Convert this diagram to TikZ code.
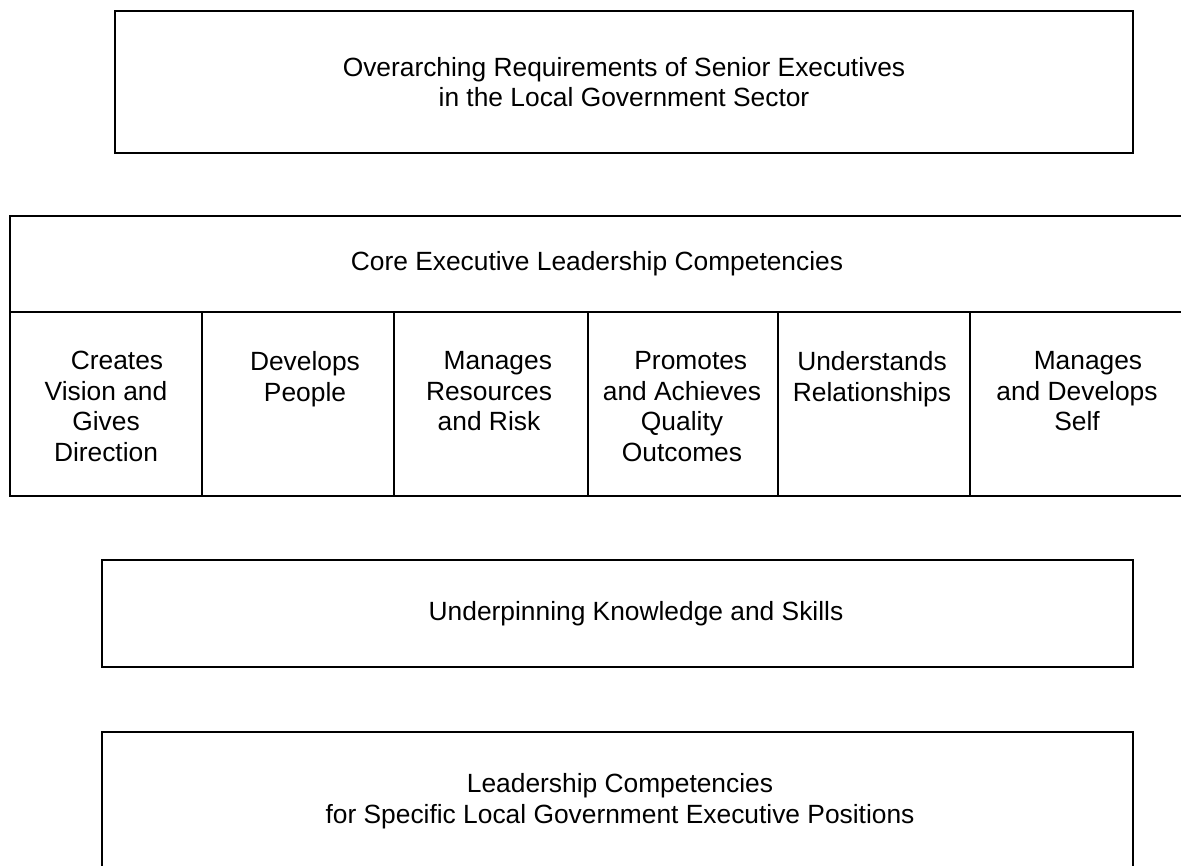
\documentclass[tikz,border=0pt]{standalone}
\usepackage{fontspec}
\setmainfont{Liberation Sans}

\begin{document}
\begin{tikzpicture}[x=0.02cm, y=-0.02cm, line width=1.6pt,
		lbl/.style={align=center, inner sep=0pt, font=\fontsize{15}{17.4}\selectfont}]
		%%%%% START %%%%%
		\useasboundingbox (0, 0) rectangle (1181, 866);
		
		% requirements box on top
		\draw (115, 11) rectangle (1133, 153);
		\node[lbl] (req) at (624, 82) {Overarching Requirements of Senior Executives\\in the Local Government Sector};
		
		% competency table, right edge runs off the page
		\draw (10, 216) rectangle (1184, 496);
		\draw (10, 312) -- (1184, 312);
		\draw (202, 312) -- (202, 496);
		\draw (394, 312) -- (394, 496);
		\draw (588, 312) -- (588, 496);
		\draw (778, 312) -- (778, 496);
		\draw (970, 312) -- (970, 496);
		\node[lbl] (core) at (597, 264) {Core Executive Leadership Competencies};
		
		\node[lbl, anchor=north] (vision) at (106, 350) {\hspace*{12.5pt}Creates\\Vision and\\Gives\\Direction};
		\node[lbl, anchor=north] (people) at (305, 350) {Develops\\People};
		\node[lbl, anchor=north] (risk) at (489, 350) {\hspace*{10pt}Manages\\Resources\\and Risk};
		\node[lbl, anchor=north] (quality) at (682, 350) {\hspace*{10pt}Promotes\\and Achieves\\Quality\\Outcomes};
		\node[lbl, anchor=north] (relations) at (872, 350) {Understands\\Relationships};
		\node[lbl, anchor=north] (self) at (1077, 350) {\hspace*{12.5pt}Manages\\and Develops\\Self};
		
		% knowledge and skills
		\draw (102, 560) rectangle (1133, 667);
		\node[lbl] (skills) at (636, 614) {Underpinning Knowledge and Skills};
		
		% specific positions, bottom edge runs off the page
		\draw (102, 732) rectangle (1133, 880);
		\node[lbl] (specific) at (620, 801) {Leadership Competencies\\for Specific Local Government Executive Positions};
		
		%%%%% END %%%%%
	\end{tikzpicture}
\end{document}
